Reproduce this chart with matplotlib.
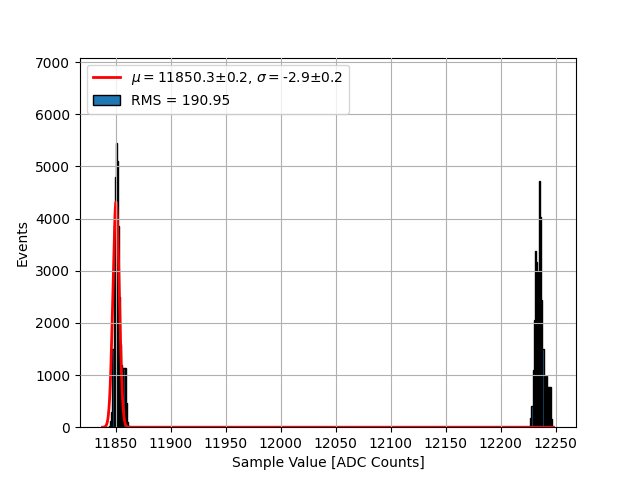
import numpy as np
import matplotlib
matplotlib.use("Agg")
import matplotlib.pyplot as plt
from matplotlib.ticker import MultipleLocator

# Histogram data: integer ADC bins (left edge) and counts
left_bins = [11844, 11845, 11846, 11847, 11848, 11849, 11850, 11851, 11852, 11853,
             11854, 11855, 11856, 11857, 11858, 11859, 11860, 11861]
left_counts = [30, 120, 300, 1500, 3870, 4800, 5450, 5100, 3850, 2500,
               1600, 1200, 1130, 1130, 1130, 460, 100, 20]
right_bins = [12227, 12228, 12229, 12230, 12231, 12232, 12233, 12234, 12235, 12236,
              12237, 12238, 12239, 12240, 12241, 12242, 12243, 12244, 12245, 12246]
right_counts = [170, 400, 1090, 2050, 3370, 3160, 3000, 2600, 4710, 4030,
                2430, 1500, 980, 800, 980, 780, 780, 780, 780, 150]

data_min = 11838
data_max = 12248

# Gaussian fit parameters
fit_amp = 4320.0
fit_mu = 11850.3
fit_sigma = 2.9
fit_label = r"$\mu=$11850.3±0.2, $\sigma=$-2.9±0.2"
rms_label = "RMS = 190.95"

bin_left = np.array(left_bins + right_bins, dtype=float)
counts = np.array(left_counts + right_counts, dtype=float)
edges = np.arange(data_min, data_max + 1, 1.0)

fig, ax = plt.subplots(figsize=(6.4, 4.8), dpi=100)
n, b, patches = ax.hist(bin_left + 0.5, bins=edges, weights=counts,
                        edgecolor="black", facecolor="#1f77b4", label=rms_label)

xs = np.linspace(data_min, data_max, 2000)
ys = fit_amp * np.exp(-0.5 * ((xs - fit_mu) / fit_sigma) ** 2)
line, = ax.plot(xs, ys, color="red", linewidth=2, label=fit_label)

ax.set_ylim(0, counts.max() * 1.3)
ax.xaxis.set_major_locator(MultipleLocator(50))
ax.set_xlabel("Sample Value [ADC Counts]")
ax.set_ylabel("Events")
ax.set_axisbelow(False)
ax.grid(True)
ax.legend(handles=[line, patches[0]], labels=[fit_label, rms_label], loc="upper left")

fig.savefig("out.png", dpi=100)
